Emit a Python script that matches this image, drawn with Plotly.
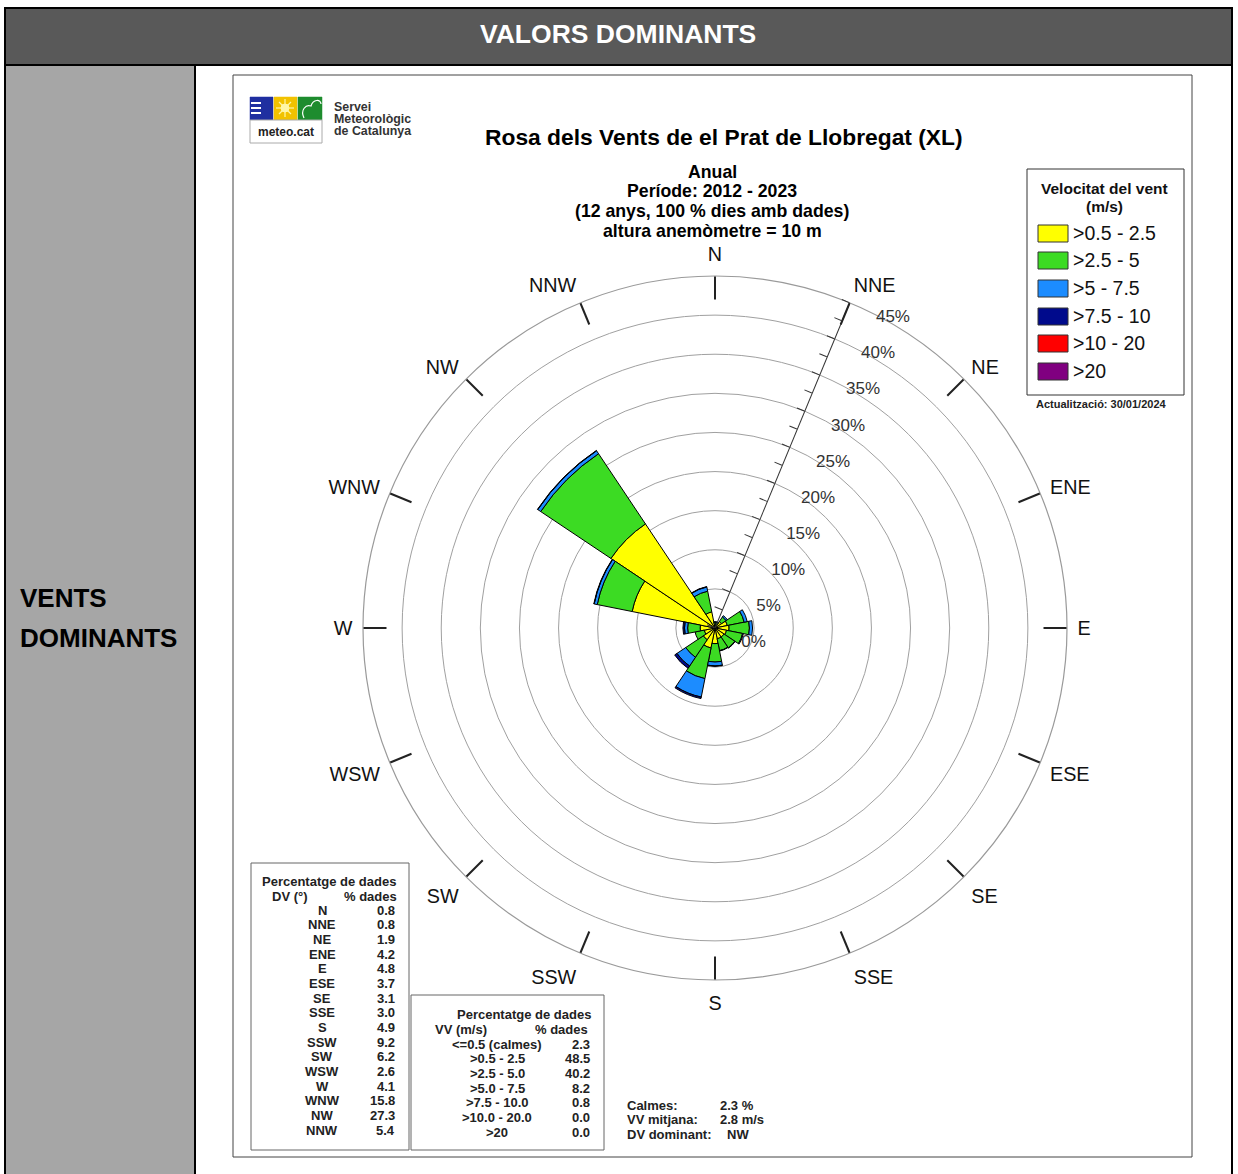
import plotly.graph_objects as go

W, H = 1238, 1174

# ---------------- data ----------------
directions = ["N", "NNE", "NE", "ENE", "E", "ESE", "SE", "SSE",
              "S", "SSW", "SW", "WSW", "W", "WNW", "NW", "NNW"]
dir_pct = [0.8, 0.8, 1.9, 4.2, 4.8, 3.7, 3.1, 3.0, 4.9, 9.2, 6.2, 2.6, 4.1, 15.8, 27.3, 5.4]

v_05_25 = [0.5, 0.5, 1.0, 1.6, 1.8, 1.5, 1.4, 1.4, 2.0, 2.6, 1.8, 1.4, 1.9, 10.8, 16.0, 2.1]
v_25_5 = [0.25, 0.25, 0.7, 2.2, 2.6, 2.1, 1.65, 1.55, 2.35, 4.0, 2.7, 1.2, 1.6, 4.55, 10.8, 2.7]
v_5_75 = [0.05, 0.05, 0.2, 0.4, 0.4, 0.1, 0.05, 0.05, 0.5, 2.4, 1.35, 0.0, 0.4, 0.4, 0.45, 0.55]
v_75_10 = [0, 0, 0, 0, 0, 0, 0, 0, 0.05, 0.2, 0.35, 0, 0.2, 0.05, 0.05, 0.05]
v_10_20 = [0, 0, 0, 0, 0, 0, 0, 0, 0, 0, 0, 0, 0, 0, 0, 0]
v_20 = [0, 0, 0, 0, 0, 0, 0, 0, 0, 0, 0, 0, 0, 0, 0, 0]

speed_labels = [">0.5 - 2.5", ">2.5 - 5", ">5 - 7.5", ">7.5 - 10", ">10 - 20", ">20"]
speed_colors = ["#FFFF00", "#3CDB23", "#1C8CFF", "#000A8C", "#FF0000", "#800080"]

radial_ticks = [0, 5, 10, 15, 20, 25, 30, 35, 40, 45]
radial_ticktext = ["0%", "5%", "10%", "15%", "20%", "25%", "30%", "35%", "40%", "45%"]
radial_minor = [2.5, 7.5, 12.5, 17.5, 22.5, 27.5, 32.5, 37.5, 42.5]

vv_labels = ["<=0.5 (calmes)", ">0.5 - 2.5", ">2.5 - 5.0", ">5.0 - 7.5",
             ">7.5 - 10.0", ">10.0 - 20.0", ">20"]
vv_pct = [2.3, 48.5, 40.2, 8.2, 0.8, 0.0, 0.0]

summary_keys = ["Calmes:", "VV mitjana:", "DV dominant:"]
summary_vals = ["2.3 %", "2.8 m/s", "NW"]

FONT = "Liberation Sans, Arial, sans-serif"


def X(x):
    return x / W


def Y(y):
    return 1 - y / H


shapes = []
annotations = []


def rect(x0, y0, x1, y1, fill=None, line="#000", lw=1):
    shapes.append(dict(type="rect", xref="paper", yref="paper",
                       x0=X(x0), x1=X(x1), y0=Y(y1), y1=Y(y0),
                       fillcolor=fill if fill else "rgba(0,0,0,0)",
                       line=dict(color=line, width=lw), layer="below"))


def line(x0, y0, x1, y1, color="#000", lw=1, layer="above"):
    shapes.append(dict(type="line", xref="paper", yref="paper",
                       x0=X(x0), x1=X(x1), y0=Y(y0), y1=Y(y1),
                       line=dict(color=color, width=lw), layer=layer))


def text(t, x, y, size=13, color="#000", bold=False, xanchor="center", yanchor="middle"):
    annotations.append(dict(text=("<b>%s</b>" % t) if bold else t,
                            xref="paper", yref="paper", x=X(x), y=Y(y),
                            xanchor=xanchor, yanchor=yanchor, showarrow=False,
                            font=dict(family=FONT, size=size, color=color),
                            borderpad=0))


# ---------------- page frame ----------------
rect(5, 8, 1232, 65, fill="#595959", line="#000", lw=2)
rect(5, 65, 195, 1180, fill="#A6A6A6", line="#000", lw=2)
line(1232, 65, 1232, 1174, lw=2)
text("VALORS DOMINANTS", 618, 34, size=26.5, color="#FFFFFF", bold=True)
text("VENTS", 19, 598, size=26, bold=True, xanchor="left")
text("DOMINANTS", 19, 638, size=26, bold=True, xanchor="left")

# image frame
rect(233, 75, 1192, 1157, fill="#FFFFFF", line="#444", lw=1)

# logo
rect(250, 97, 273, 120, fill="#1F2FA0", line="#1F2FA0", lw=0.5)
for yy in (103, 108, 113):
    line(251, yy, 261, yy, color="#FFFFFF", lw=2)
rect(274, 97, 297, 120, fill="#F2C200", line="#F2C200", lw=0.5)
shapes.append(dict(type="circle", xref="paper", yref="paper",
                   x0=X(281), x1=X(289), y0=Y(112), y1=Y(104),
                   fillcolor="#FFF6A8", line=dict(color="#FFF6A8", width=1)))
for (a, b, c, d) in [(285, 99, 285, 117), (276, 108, 294, 108), (279, 102, 291, 114), (279, 114, 291, 102)]:
    line(a, b, c, d, color="#FFF6A8", lw=1.2)
rect(298, 97, 322, 120, fill="#1E8C2E", line="#1E8C2E", lw=0.5)
shapes.append(dict(type="path", xref="paper", yref="paper",
                   path="M %f,%f C %f,%f %f,%f %f,%f C %f,%f %f,%f %f,%f" % (
                       X(304), Y(118), X(300), Y(110), X(306), Y(104), X(311), Y(106),
                       X(313), Y(99), X(321), Y(99), X(321), Y(104)),
                   line=dict(color="#FFFFFF", width=1.2)))
rect(250, 120, 322, 143, fill="#FFFFFF", line="#AAAAAA", lw=1)
text("meteo.cat", 286, 132, size=12, color="#222", bold=True)
text("Servei", 333, 107, size=12.4, color="#333", bold=True, xanchor="left")
text("Meteorològic", 333, 119, size=12.4, color="#333", bold=True, xanchor="left")
text("de Catalunya", 333, 131, size=12.4, color="#333", bold=True, xanchor="left")

# titles
text("Rosa dels Vents de el Prat de Llobregat (XL)", 724, 137, size=22.8, bold=True)
text("Anual", 712, 172, size=17.7, bold=True)
text("Període: 2012 - 2023", 712, 191, size=17.7, bold=True)
text("(12 anys, 100 % dies amb dades)", 712, 211, size=17.7, bold=True)
text("altura anemòmetre = 10 m", 712, 231, size=17.7, bold=True)

# legend
rect(1027, 169, 1184, 395, fill="#FFFFFF", line="#333", lw=1)
text("Velocitat del vent", 1104, 189, size=15.5, bold=True, color="#111")
text("(m/s)", 1104, 207, size=15.5, bold=True, color="#111")
leg_y = [233, 260, 288, 316, 343, 371]
for lab, col, yy in zip(speed_labels, speed_colors, leg_y):
    shapes.append(dict(type="rect", xref="paper", yref="paper",
                       x0=X(1038), x1=X(1068), y0=Y(yy + 9), y1=Y(yy - 8),
                       fillcolor=col, line=dict(color="#333", width=1)))
    text(lab, 1072, yy, size=19.5, color="#111", xanchor="left")
text("Actualització: 30/01/2024", 1101, 404, size=11, bold=True, color="#222")

# DV table
rect(251, 863, 409, 1150, fill="#FFFFFF", line="#666", lw=1)
text("Percentatge de dades", 329, 881, size=13, bold=True, color="#222")
text("DV (°)", 290, 896, size=13, bold=True, color="#222")
text("% dades", 370, 896, size=13, bold=True, color="#222")
for i, (d, p) in enumerate(zip(directions, dir_pct)):
    yy = 910 + i * 14.67
    text(d, 322, yy, size=13, bold=True, color="#222")
    text("%.1f" % p, 396, yy, size=13, bold=True, color="#222", xanchor="right")

# VV table
rect(411, 995, 604, 1150, fill="#FFFFFF", line="#666", lw=1)
text("Percentatge de dades", 524, 1014, size=13, bold=True, color="#222")
text("VV (m/s)", 461, 1029, size=13, bold=True, color="#222")
text("% dades", 561, 1029, size=13, bold=True, color="#222")
for i, (l, p) in enumerate(zip(vv_labels, vv_pct)):
    yy = 1044 + i * 14.67
    text(l, 497, yy, size=13, bold=True, color="#222")
    text("%.1f" % p, 591, yy, size=13, bold=True, color="#222", xanchor="right")

# summary
for i, (k, v) in enumerate(zip(summary_keys, summary_vals)):
    yy = 1105 + i * 14.5
    text(k, 626, yy, size=13, bold=True, color="#222", xanchor="left")
    text(v, 719 if i < 2 else 726, yy, size=13, bold=True, color="#222", xanchor="left")

# ---------------- wind rose ----------------
fig = go.Figure()
series = [v_05_25, v_25_5, v_5_75, v_75_10, v_10_20, v_20]
for lab, col, vals in zip(speed_labels, speed_colors, series):
    fig.add_trace(go.Barpolar(r=vals, theta=directions, name=lab,
                              marker=dict(color=col, line=dict(color="#000", width=1)),
                              showlegend=False, subplot="polar"))
# helper (invisible) trace carrying the overlay axis: direction ticks + radial ticks
fig.add_trace(go.Scatterpolar(r=dir_pct, theta=directions, subplot="polar2", mode="lines",
                              line=dict(width=0, color="rgba(0,0,0,0)"), opacity=0,
                              hoverinfo="skip", showlegend=False))

cx, cy, R = 715, 628, 352
dom_x = [X(cx - R), X(cx + R)]
dom_y = [Y(cy + R), Y(cy - R)]

fig.update_layout(
    width=W, height=H, margin=dict(l=0, r=0, t=0, b=0),
    paper_bgcolor="#FFFFFF", plot_bgcolor="#FFFFFF",
    font=dict(family=FONT),
    shapes=shapes, annotations=annotations,
    polar=dict(
        domain=dict(x=dom_x, y=dom_y),
        bgcolor="rgba(0,0,0,0)",
        barmode="stack", bargap=0,
        angularaxis=dict(type="category", rotation=90, direction="clockwise",
                         showline=True, linecolor="#9A9A9A", linewidth=1.2,
                         showgrid=False, ticks="outside", ticklen=6, tickwidth=1,
                         tickcolor="rgba(0,0,0,0)",
                         tickfont=dict(family=FONT, size=19.8, color="#111")),
        radialaxis=dict(range=[0, 45], angle=67.5, side="clockwise",
                        tickvals=radial_ticks, ticktext=radial_ticktext,
                        showgrid=True, gridcolor="#A0A0A0", gridwidth=1,
                        showline=True, linecolor="#333", linewidth=1,
                        ticks="outside", ticklen=16, tickcolor="rgba(0,0,0,0)",
                        tickfont=dict(family=FONT, size=17, color="#333"),
                        tickangle=67.5),
    ),
    polar2=dict(
        domain=dict(x=dom_x, y=dom_y),
        bgcolor="rgba(0,0,0,0)",
        angularaxis=dict(type="category", categoryarray=directions,
                         rotation=90, direction="clockwise",
                         showline=False, showgrid=False, showticklabels=False,
                         ticks="inside", ticklen=23, tickwidth=1.5, tickcolor="#222"),
        radialaxis=dict(range=[0, 45], angle=67.5, side="clockwise",
                        tickvals=sorted(radial_ticks + radial_minor), showticklabels=False,
                        showgrid=False, showline=False,
                        ticks="inside", ticklen=8, tickcolor="#333"),
    ),
)

fig.write_html("out.html", config={"displayModeBar": False},
               post_script="document.body.style.margin='0px';")
